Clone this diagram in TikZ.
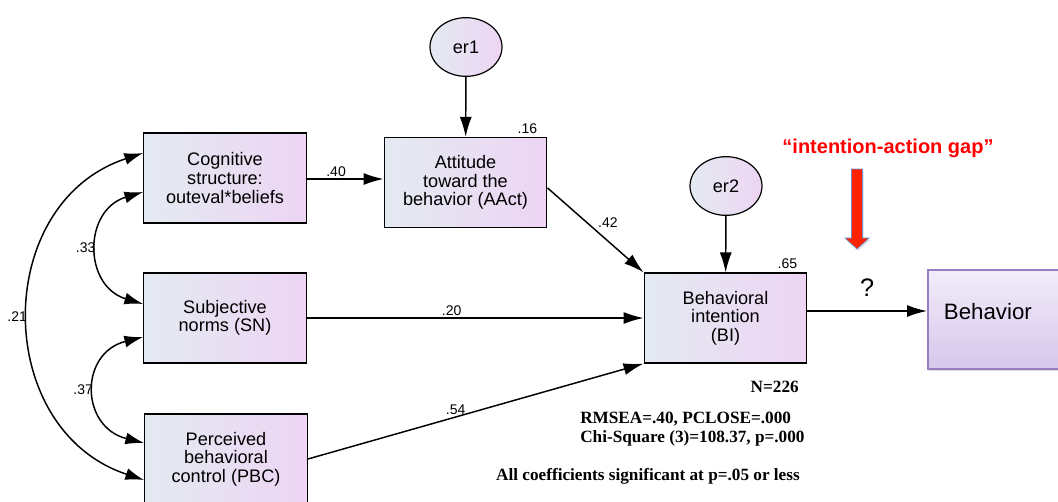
\documentclass[tikz,border=0pt]{standalone}
\usepackage{fontspec}
\setmainfont{Liberation Sans}
\newfontfamily\statfont{Liberation Serif}
\usetikzlibrary{arrows.meta,shapes.geometric,shadows}
\definecolor{boxleft}{RGB}{228,234,242}
\definecolor{boxright}{RGB}{237,213,243}
\definecolor{behtop}{RGB}{242,236,250}
\definecolor{behbottom}{RGB}{214,199,236}
\definecolor{behline}{RGB}{152,126,192}
\definecolor{gapred}{RGB}{255,34,0}
\definecolor{gapline}{RGB}{104,142,204}
\begin{document}
\begin{tikzpicture}[x=0.75pt, y=-0.75pt,
	varbox/.style={draw, line width=0.9pt, left color=boxleft, right color=boxright, minimum width=122pt, minimum height=67.5pt, align=center, font=\fontsize{13.6}{13.9}\selectfont},
	errnode/.style={ellipse, draw, line width=0.9pt, left color=boxleft, right color=boxright, minimum width=54pt, minimum height=44pt, font=\fontsize{13.6}{14}\selectfont},
	behbox/.style={draw=behline, line width=1.4pt, top color=behtop, bottom color=behbottom, anchor=west, minimum width=124pt, minimum height=74.25pt, inner xsep=12pt, text width=100pt, align=left, text depth=12.5pt, drop shadow={opacity=0.25, shadow xshift=1pt, shadow yshift=-1.5pt}, font=\fontsize{16.7}{18}\selectfont},
	reg/.style={line width=1.1pt, -{Latex[length=15pt,width=9pt]}},
	cov/.style={line width=1.1pt, {Latex[length=14pt,width=9pt]}-{Latex[length=14pt,width=9pt]}},
	lbl/.style={font=\fontsize{10.5}{11}\selectfont, inner sep=1.5pt},
	stat/.style={font=\statfont\bfseries\fontsize{12.9}{14}\selectfont, inner sep=0pt}]

	\useasboundingbox (0,0) rectangle (1058,501);

	\node[varbox] (cog) at (225,178) {Cognitive\\structure:\\outeval*beliefs};
	\node[varbox] (att) at (465.5,182.5) {Attitude\\toward the\\behavior (AAct)};
	\node[varbox] (sn) at (225,318) {Subjective\\norms (SN)};
	\node[varbox] (pbc) at (226,459) {Perceived\\behavioral\\control (PBC)};
	\node[varbox] (bi) at (725.5,318) {Behavioral\\intention\\(BI)};
	\node[behbox] (beh) at (927,319.5) {Behavior};

	\node[errnode] (er1) at (466,47) {er1};
	\node[errnode] (er2) at (726,186) {er2};

	\draw[reg] (er1) -- (att);
	\draw[reg] (er2) -- (bi);
	\draw[reg] (cog.east |- 0,179) -- node[lbl, above, pos=.38] {.40} (att.west |- 0,179);
	\draw[reg] ([yshift=-4pt]att.east) -- node[lbl, above right, pos=.5] {.42} (bi.north west);
	\draw[reg] (sn) -- node[lbl, above, pos=.43] {.20} (bi);
	\draw[reg] (pbc.east) -- node[lbl, above, pos=.44] {.54} (bi.south west);
	\draw[reg] ([yshift=5.25pt]bi.east) -- node[above=7pt, font=\fontsize{19}{20}\selectfont] (gapq) {?} ([yshift=5.25pt]bi.east -| beh.west);

	\draw[cov] ([yshift=-10.5pt]cog.west) .. controls +(-60,18) and +(-60,-18) .. node[lbl, left] {.33} ([yshift=10.5pt]sn.west);
	\draw[cov] ([yshift=-14.25pt]sn.west) .. controls +(-64,16) and +(-64,-16) .. node[lbl, left] {.37} ([yshift=12pt]pbc.west);
	\draw[cov] ([yshift=18.75pt]cog.west) .. controls +(-152,50) and +(-152,-50) .. node[lbl, left] {.21} ([yshift=-15.75pt]pbc.west);

	\node[lbl, anchor=south east] (r2att) at ([xshift=-6pt, yshift=1pt]att.north east) {.16};
	\node[lbl, anchor=south east] (r2bi) at ([xshift=-6pt, yshift=1pt]bi.north east) {.65};

	\node[text=red, font=\bfseries\fontsize{15}{16}\selectfont] (gaptext) at (888,148) {“intention-action gap”};
	\coordinate (gap) at (857,169);
	\filldraw[fill=gapred, draw=gapline, line width=0.5pt, drop shadow={opacity=0.2, shadow xshift=1pt, shadow yshift=-1.5pt}] ([xshift=-4.1pt]gap) -- ++(0,69) -- ++(-6.5,0) -- ++(12,11) -- ++(12,-11) -- ++(-6.5,0) -- ++(0,-69) -- cycle;

	\node[stat, anchor=base east] (nobs) at (799,392) {N=226};
	\node[stat, anchor=base west] (fit1) at (580,423) {RMSEA=.40, PCLOSE=.000};
	\node[stat, anchor=base west] (fit2) at (580,442) {Chi-Square (3)=108.37, p=.000};
	\node[stat, anchor=base east] (sig) at (800,480) {All coefficients significant at p=.05 or less};

\end{tikzpicture}
\end{document}
